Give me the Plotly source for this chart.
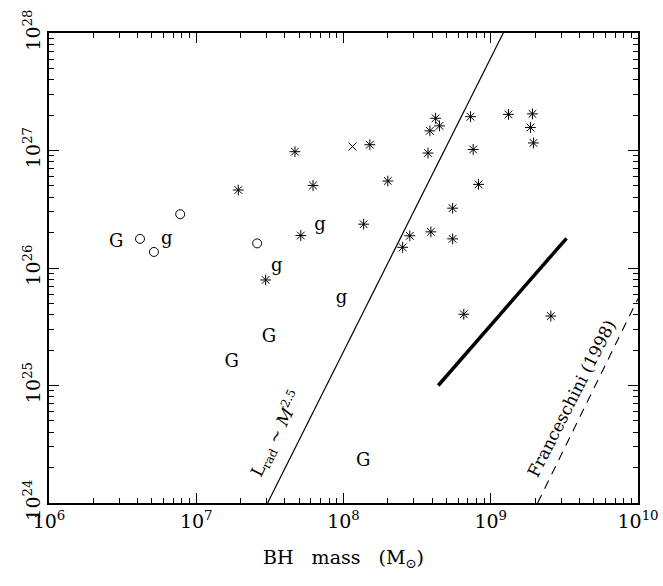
import plotly.graph_objects as go

# ---- data ----
star_mass = [1.93e7, 2.96e7, 4.68e7, 5.13e7, 6.21e7, 1.51e8, 1.37e8, 2.00e8, 2.52e8,
             2.82e8, 3.75e8, 3.86e8, 4.22e8, 4.49e8, 3.92e8, 5.51e8, 5.51e8, 7.29e8,
             7.60e8, 8.26e8, 6.56e8, 1.32e9, 1.92e9, 1.86e9, 1.95e9, 2.56e9]
star_lum = [4.61e26, 7.91e25, 9.77e26, 1.89e26, 5.04e26, 1.12e27, 2.36e26, 5.50e26, 1.50e26,
            1.88e26, 9.51e26, 1.47e27, 1.88e27, 1.62e27, 2.03e26, 1.77e26, 3.23e26, 1.94e27,
            1.02e27, 5.15e26, 4.04e25, 2.03e27, 2.05e27, 1.57e27, 1.16e27, 3.90e25]

circle_mass = [4.15e6, 5.16e6, 7.78e6, 2.59e7]
circle_lum = [1.77e26, 1.37e26, 2.87e26, 1.62e26]

cross_mass = [1.15e8]
cross_lum = [1.08e27]

G_mass = [2.86e6, 1.74e7, 3.12e7, 1.36e8]
G_lum = [1.64e26, 1.56e25, 2.55e25, 2.26e24]

g_mass = [6.30e6, 3.52e7, 6.92e7, 9.70e7]
g_lum = [1.74e26, 1.04e26, 2.32e26, 5.53e25]

lrad_mass = [3.05e7, 1.216e9]
lrad_lum = [1e24, 1e28]

thick_mass = [4.40e8, 3.27e9]
thick_lum = [1.0e25, 1.79e26]

fran_mass = [2.08e9, 1.0e10]
fran_lum = [1.0e24, 5.5e25]

x_tickvals = [1e6, 1e7, 1e8, 1e9, 1e10]
x_ticktext = ["10<sup>6</sup>", "10<sup>7</sup>", "10<sup>8</sup>", "10<sup>9</sup>", "10<sup>10</sup>"]
y_tickvals = [1e24, 1e25, 1e26, 1e27, 1e28]
y_ticktext = ["10<sup>24</sup>", "10<sup>25</sup>", "10<sup>26</sup>", "10<sup>27</sup>", "10<sup>28</sup>"]

FONT = "DejaVu Serif"

fig = go.Figure()

fig.add_trace(go.Scatter(x=lrad_mass, y=lrad_lum, mode="lines",
                         line=dict(color="black", width=1.2), showlegend=False))
fig.add_trace(go.Scatter(x=thick_mass, y=thick_lum, mode="lines",
                         line=dict(color="black", width=3.5), showlegend=False))
fig.add_trace(go.Scatter(x=fran_mass, y=fran_lum, mode="lines",
                         line=dict(color="black", width=1.1, dash="9px,7px"), showlegend=False))

fig.add_trace(go.Scatter(x=star_mass, y=star_lum, mode="markers",
                         marker=dict(symbol="asterisk-open", size=9, color="black",
                                     line=dict(color="black", width=1)), showlegend=False))
fig.add_trace(go.Scatter(x=circle_mass, y=circle_lum, mode="markers",
                         marker=dict(symbol="circle-open", size=9, color="black",
                                     line=dict(color="black", width=1)), showlegend=False))
fig.add_trace(go.Scatter(x=cross_mass, y=cross_lum, mode="markers",
                         marker=dict(symbol="x-thin-open", size=8, color="black",
                                     line=dict(color="black", width=1)), showlegend=False))
fig.add_trace(go.Scatter(x=G_mass, y=G_lum, mode="text", text=["G"] * len(G_mass),
                         textfont=dict(family=FONT, size=18, color="black"), showlegend=False))
fig.add_trace(go.Scatter(x=g_mass, y=g_lum, mode="text", text=["g"] * len(g_mass),
                         textfont=dict(family=FONT, size=18, color="black"), showlegend=False))

fig.add_annotation(x=7.548, y=24.59, xref="x", yref="y",
                   text="L<sub>rad</sub> ~ <i>M</i><sup>2.5</sup>", showarrow=False,
                   textangle=-63.4, font=dict(family=FONT, size=17, color="black"))
fig.add_annotation(x=9.552, y=24.89, xref="x", yref="y",
                   text="Franceschini (1998)", showarrow=False,
                   textangle=-63, font=dict(family=FONT, size=17, color="black"))

axis_common = dict(type="log", showgrid=False, zeroline=False, showline=True,
                   linecolor="black", linewidth=1.5, mirror="ticks", automargin=False,
                   ticks="inside", ticklen=10, tickwidth=1.2, tickcolor="black",
                   minor=dict(dtick="D1", ticks="inside", ticklen=5, tickwidth=1.2,
                              tickcolor="black", showgrid=False),
                   tickfont=dict(family=FONT, size=19, color="black"))

fig.update_xaxes(range=[6, 10], tickvals=x_tickvals, ticktext=x_ticktext,
                 title=dict(text="BH   mass   (M<sub>⊙</sub>)", standoff=20,
                            font=dict(family=FONT, size=19, color="black")),
                 **axis_common)
fig.update_yaxes(range=[24, 28], tickvals=y_tickvals, ticktext=y_ticktext,
                 tickangle=-90, **axis_common)

fig.update_layout(width=663, height=586, margin=dict(l=49, r=25, t=33, b=83),
                  plot_bgcolor="white", paper_bgcolor="white",
                  font=dict(family=FONT, color="black"))

fig.write_html("out.html")
